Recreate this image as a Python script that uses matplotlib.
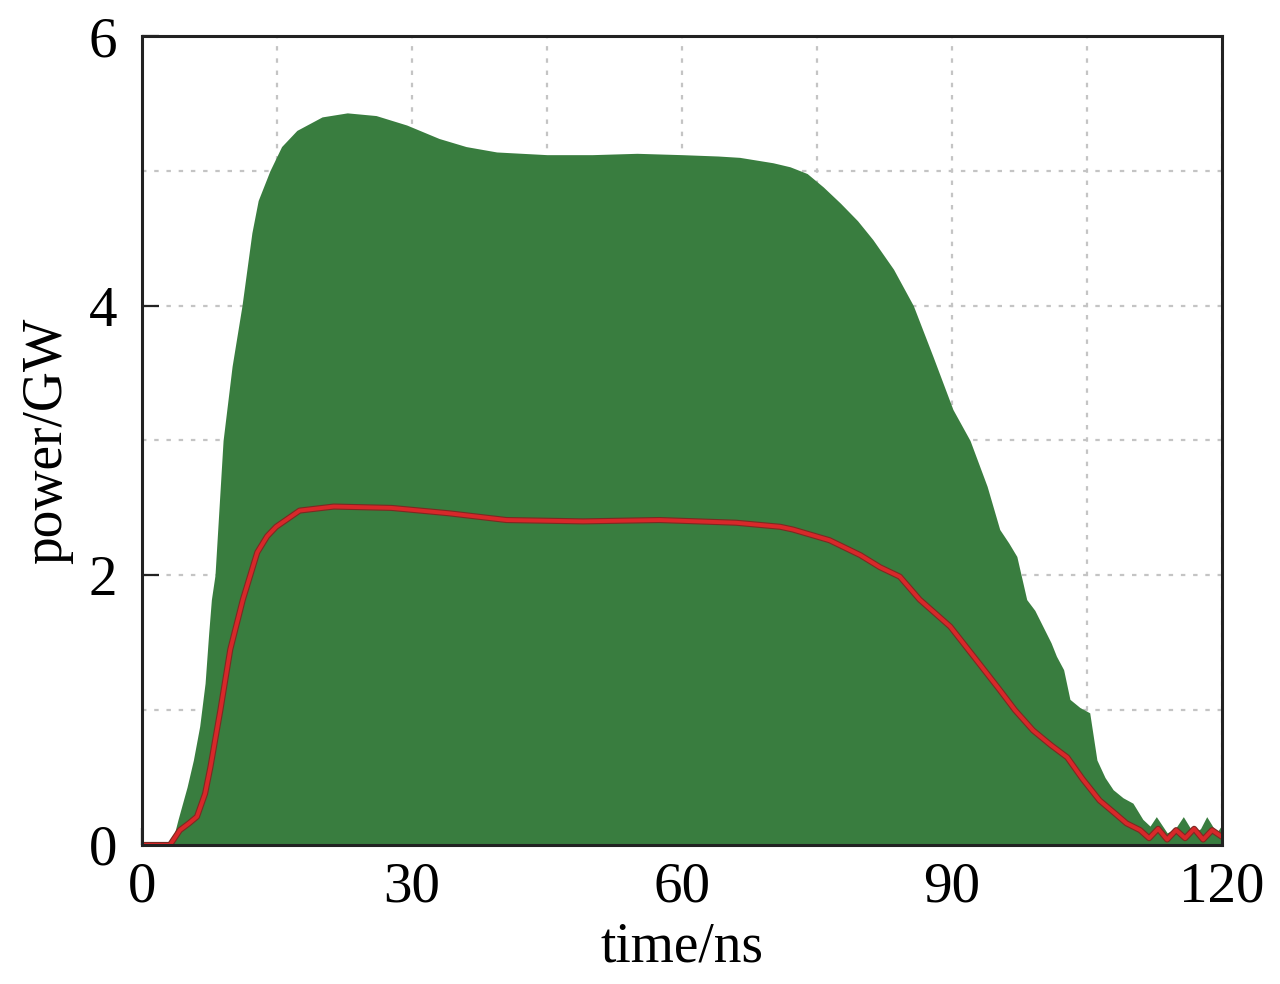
import matplotlib
matplotlib.use("Agg")
import matplotlib.pyplot as plt
import matplotlib.patheffects as pe
from matplotlib.ticker import MultipleLocator

plt.rcParams['font.family'] = ['Liberation Serif', 'DejaVu Serif']

# upper envelope of the measured power (green area)
env_t = [0, 3.0, 3.3, 4.0, 5.0, 5.7, 6.4, 7.0, 7.4, 7.7, 8.1, 9.0, 10.0, 11.1,
         12.2, 12.9, 14.2, 15.5, 17.2, 20.0, 22.8, 26.0, 29.4, 33.0, 36.0,
         39.4, 45.0, 50.0, 55.0, 60.0, 64.0, 66.4, 70.1, 72.0, 73.9, 75.7,
         77.6, 79.5, 81.2, 83.5, 85.7, 87.9, 90.1, 92.0, 93.9, 95.3, 96.3,
         97.2, 98.3, 99.2, 100.1, 101.0, 101.6, 102.4, 103.1, 104.2, 105.3,
         106.1, 107.0, 107.9, 109.0, 110.1, 111.2, 112.0, 112.7, 113.9,
         114.8, 115.7, 116.8, 117.6, 118.3, 119.4, 120.0]
env_p = [0, 0, 0.01, 0.19, 0.43, 0.63, 0.88, 1.20, 1.57, 1.82, 2.00, 3.00,
         3.55, 4.00, 4.54, 4.78, 5.00, 5.18, 5.30, 5.40, 5.43, 5.41, 5.34,
         5.24, 5.18, 5.14, 5.12, 5.12, 5.13, 5.12, 5.11, 5.10, 5.06, 5.03,
         4.98, 4.88, 4.76, 4.63, 4.49, 4.27, 4.00, 3.62, 3.23, 3.00, 2.66,
         2.34, 2.24, 2.14, 1.82, 1.74, 1.62, 1.50, 1.40, 1.30, 1.08, 1.02,
         0.98, 0.63, 0.50, 0.41, 0.35, 0.31, 0.19, 0.14, 0.21, 0.09, 0.12,
         0.21, 0.09, 0.12, 0.21, 0.09, 0.15]

# mean power (red line)
mean_t = [0, 3.1, 4.2, 5.2, 6.1, 7.0, 7.6, 8.7, 9.8, 11.2, 12.8, 13.9, 14.9,
          17.5, 21.3, 27.7, 34.1, 40.5, 49.0, 57.5, 66.0, 70.9, 72.3, 76.4,
          79.8, 82.0, 84.2, 86.4, 89.8, 92.5, 95.3, 97.0, 99.0, 101.0, 102.8,
          104.5, 106.4, 108.0, 109.4, 110.9, 111.9, 112.9, 113.9, 114.9,
          115.9, 116.9, 117.9, 118.9, 120.0]
mean_p = [0, 0, 0.11, 0.16, 0.21, 0.38, 0.58, 1.00, 1.45, 1.82, 2.17, 2.29,
          2.36, 2.48, 2.51, 2.50, 2.46, 2.41, 2.40, 2.41, 2.39, 2.36, 2.34,
          2.26, 2.15, 2.06, 1.99, 1.82, 1.62, 1.39, 1.15, 1.00, 0.85, 0.74,
          0.65, 0.49, 0.33, 0.24, 0.16, 0.11, 0.05, 0.12, 0.04, 0.11, 0.05,
          0.12, 0.04, 0.11, 0.06]

fig = plt.figure(figsize=(12.8, 9.84), dpi=100)
ax = fig.add_axes([0.111, 0.1413, 0.8437, 0.8221])

ax.fill_between(env_t, 0, env_p, color='#397d3f', lw=0, zorder=2)
ax.plot(mean_t, mean_p, color='#d8282a', lw=2.8, zorder=3,
        path_effects=[pe.Stroke(linewidth=4.4, foreground='#7c2a22'), pe.Normal()])

ax.set_xlim(0, 120)
ax.set_ylim(0, 6)
ax.xaxis.set_major_locator(MultipleLocator(30))
ax.xaxis.set_minor_locator(MultipleLocator(15))
ax.yaxis.set_major_locator(MultipleLocator(2))
ax.yaxis.set_minor_locator(MultipleLocator(1))

ax.set_axisbelow(True)
ax.grid(True, which='both', color='#c4c4c4', lw=1.6, linestyle=(0, (2, 3.5)))

ax.tick_params(which='major', direction='in', length=12, width=1.6,
               labelsize=41, pad=12, top=False, right=False, color='#222222')
ax.tick_params(axis='y', which='major', pad=18)
ax.tick_params(which='minor', length=0)
for s in ax.spines.values():
    s.set_linewidth(2.2)
    s.set_color('#222222')
    s.set_zorder(5)

ax.set_xlabel('time/ns', fontsize=40, labelpad=6)
ax.set_ylabel('power/GW', fontsize=40, labelpad=11)

fig.savefig('out.png', dpi=100)
